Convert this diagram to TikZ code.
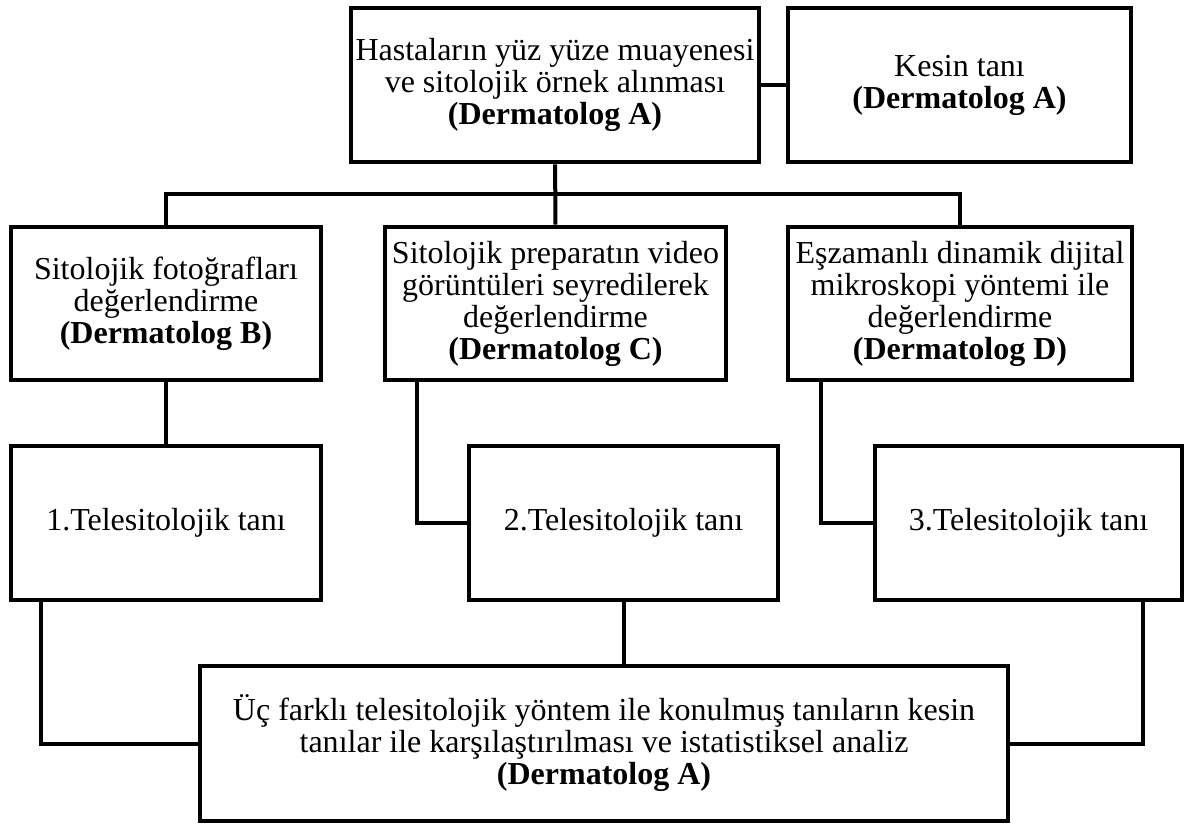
\documentclass[tikz,border=0pt]{standalone}
\usepackage{fontspec}
\setmainfont{Liberation Serif}
\usepackage{tikz}

\begin{document}
\begin{tikzpicture}
  [x=0.5pt,y=-0.5pt,every node/.style={draw,line width=2.4pt,inner sep=0pt,align=center,font=\fontsize{16}{16}\selectfont},
   every path/.append style={line width=2pt}]
  \useasboundingbox (0,0) rectangle (1186,824);

  \node[minimum width=204pt,minimum height=77pt] (1) at (555,85) {Hastaların yüz yüze muayenesi\\ve sitolojik örnek alınması\\\textbf{(Dermatolog A)}};
  \node[minimum width=171.5pt,minimum height=77pt] (2) at (959.5,85) {Kesin tanı\\\textbf{(Dermatolog A)}};
  \node[minimum width=155pt,minimum height=76.5pt] (3) at (166,303.5) {Sitolojik fotoğrafları\\değerlendirme\\\textbf{(Dermatolog B)}};
  \node[minimum width=170.5pt,minimum height=76.5pt] (4) at (555.5,303.5) {Sitolojik preparatın video\\görüntüleri seyredilerek\\değerlendirme\\\textbf{(Dermatolog C)}};
  \node[minimum width=172pt,minimum height=76.5pt] (5) at (960,303.5) {Eşzamanlı dinamik dijital\\mikroskopi yöntemi ile\\değerlendirme\\\textbf{(Dermatolog D)}};
  \node[minimum width=155pt,minimum height=77pt] (6) at (166,523) {1.Telesitolojik tanı};
  \node[minimum width=154.5pt,minimum height=77pt] (7) at (623.5,523) {2.Telesitolojik tanı};
  \node[minimum width=153.5pt,minimum height=77pt] (8) at (1028.5,523) {3.Telesitolojik tanı};
  \node[minimum width=404pt,minimum height=77.5pt] (9) at (604,743.5) {Üç farklı telesitolojik yöntem ile konulmuş tanıların kesin\\tanılar ile karşılaştırılması ve istatistiksel analiz\\\textbf{(Dermatolog A)}};

  \coordinate (bus) at (555,194);

  \foreach \from/\to in {1/2,1/4,3/6}
    \draw (\from) -- (\to);
  \draw (3) |- (bus) -| (5);
  \draw ([xshift=17pt]4.south west) |- (7);
  \draw ([xshift=17.5pt]5.south west) |- (8);
  \draw ([xshift=16pt]6.south west) |- (9);
  \draw (7) -- (7 |- 9.north);
  \draw ([xshift=-20.5pt]8.south east) |- (9);

\end{tikzpicture}
\end{document}
